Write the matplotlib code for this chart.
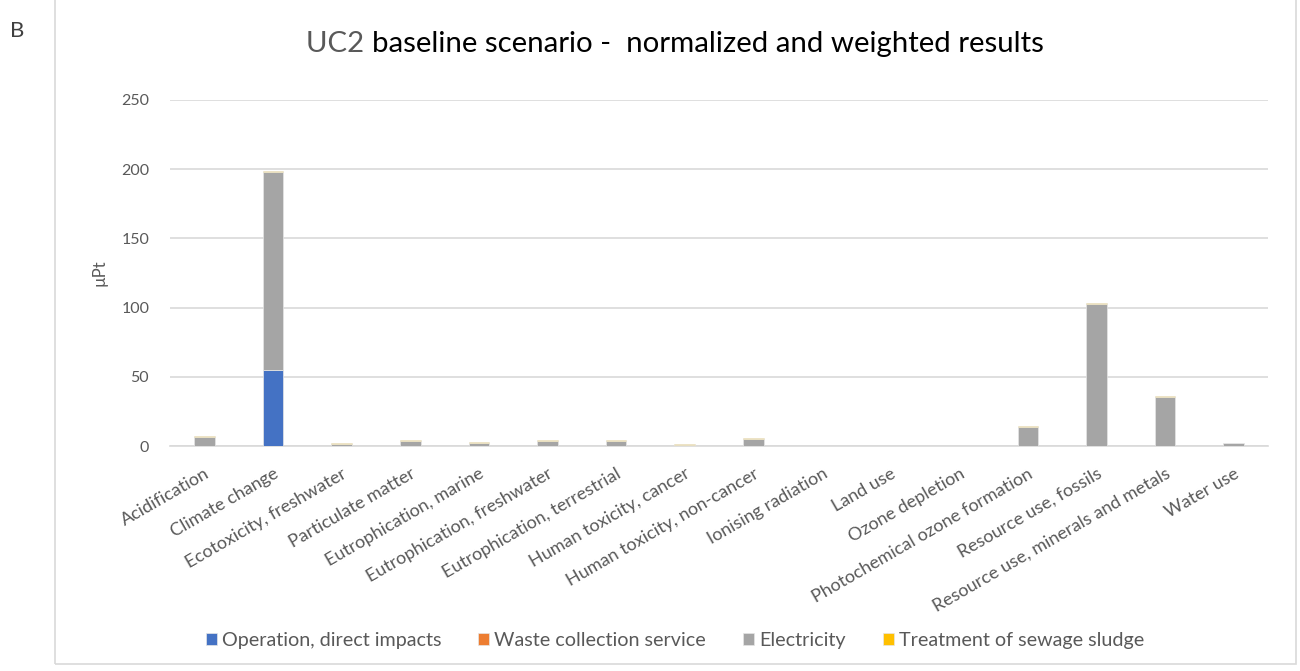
import matplotlib.pyplot as plt
import numpy as np
from matplotlib.patches import Rectangle

plt.rcParams['font.family'] = ['Lato', 'DejaVu Sans']

categorias = ["Acidification", "Climate change", "Ecotoxicity, freshwater", "Particulate matter",
              "Eutrophication, marine", "Eutrophication, freshwater", "Eutrophication, terrestrial",
              "Human toxicity, cancer", "Human toxicity, non-cancer", "Ionising radiation",
              "Land use", "Ozone depletion", "Photochemical ozone formation",
              "Resource use, fossils", "Resource use, minerals and metals", "Water use"]

operacion = [0, 55, 0, 0, 0, 0, 0, 0, 0, 0, 0, 0, 0, 0, 0, 0]
residuos = [0.05, 0.1, 0.02, 0.03, 0.02, 0.03, 0.03, 0.02, 0.03, 0.0, 0.02, 0.0, 0.05, 0.1, 0.05, 0.02]
electricidad = [6.4, 143.2, 1.6, 3.8, 2.5, 3.7, 3.5, 0.5, 5.2, 0.05, 0.1, 0.05, 13.7, 102.8, 35.5, 1.8]
lodos = [0.5, 0.3, 0.4, 0.5, 0.4, 0.5, 0.5, 0.6, 0.5, 0.05, 0.2, 0.15, 0.5, 0.2, 0.4, 0.1]

series = [("Operation, direct impacts", operacion, "#4472C4"),
          ("Waste collection service", residuos, "#ED7D31"),
          ("Electricity", electricidad, "#A5A5A5"),
          ("Treatment of sewage sludge", lodos, "#FFC000")]

fig = plt.figure(figsize=(13, 6.71), dpi=100)
ax = fig.add_axes([0.1308, 0.3353, 0.8446, 0.5157])

x = np.arange(len(categorias))
base = np.zeros(len(categorias))
for nombre, vals, color in series:
    vals = np.array(vals)
    ax.bar(x, vals, width=0.3, bottom=base, color=color, label=nombre,
           edgecolor="#e6e6e6", linewidth=0.5, zorder=3)
    base += vals

ax.set_xlim(-0.5, len(categorias) - 0.5)
ax.set_ylim(0, 250)
ax.set_yticks(range(0, 251, 50))
ax.yaxis.grid(True, color="#d9d9d9", linewidth=1.2, zorder=0)
for s in ["top", "right", "left"]:
    ax.spines[s].set_visible(False)
ax.spines["bottom"].set_color("#d9d9d9")
ax.spines["bottom"].set_linewidth(1.2)
ax.tick_params(axis="y", length=0, colors="#595959", labelsize=11.5, pad=15)
ax.tick_params(axis="x", length=0, colors="#595959", labelsize=13, pad=14)
ax.set_xticks(x)
ax.set_xticklabels(categorias, rotation=30, ha="right", va="top", rotation_mode="anchor")
ax.set_ylabel("µPt", color="#595959", fontsize=12)
ax.yaxis.set_label_coords(-0.057, 0.5)

# titulo en dos colores
fig.text(372 / 1300, 0.934, "UC2 ", color="#595959", fontsize=21.2, ha="right", va="center")
fig.text(372 / 1300, 0.934, "baseline scenario -  normalized and weighted results", color="black",
         fontsize=21.2, ha="left", va="center")

fig.text(10 / 1300, 0.954, "B", fontsize=16, color="#404040", va="center")

fig.patches.append(Rectangle((55 / 1300, 7 / 671), 1241 / 1300, 670 / 671, transform=fig.transFigure,
                             fill=False, edgecolor="#d9d9d9", linewidth=1.2))

leg = fig.legend(loc="center", bbox_to_anchor=(675 / 1300, 0.046), ncol=4, frameon=False,
                 fontsize=14.2, handlelength=0.55, handleheight=0.55, handletextpad=0.25,
                 columnspacing=1.9)
for t in leg.get_texts():
    t.set_color("#595959")

plt.savefig("out.png", dpi=100)
